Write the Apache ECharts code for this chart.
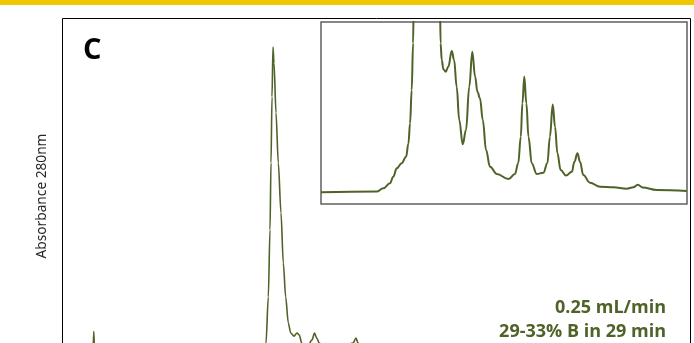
<!DOCTYPE html>
<html><head><meta charset="utf-8">
<script src="https://cdn.jsdelivr.net/npm/echarts@6/dist/echarts.min.js"></script>
<style>html,body{margin:0;padding:0;background:#fff}#c{width:694px;height:343px}</style>
</head><body><div id="c"></div>
<script>
// Main chromatogram (time in min, absorbance arbitrary units)
const mainTime = [0.0, 1.5, 1.55, 1.59, 1.63, 9.9, 10.1, 10.2, 10.315, 10.4, 10.45, 10.5, 10.55, 10.6, 10.7, 10.815, 10.95, 11.065, 11.185, 11.315, 11.435, 11.6, 11.75, 11.865, 11.985, 12.1, 12.3, 12.5, 12.625, 12.735, 12.865, 13.1, 13.9, 14.55, 14.7, 14.8, 15.0, 17.0, 25.0, 31.4];
const mainAbs  = [0.03, 0.03, 0.03, 0.092, 0.03, 0.03, 0.04, 0.058, 0.191, 0.386, 0.580, 0.771, 0.916, 0.870, 0.725, 0.580, 0.435, 0.290, 0.191, 0.116, 0.087, 0.078, 0.087, 0.081, 0.058, 0.046, 0.050, 0.067, 0.087, 0.072, 0.058, 0.045, 0.042, 0.058, 0.072, 0.058, 0.042, 0.045, 0.036, 0.034];

// Inset (zoomed) chromatogram
const insetTime = [6.0, 8.39, 8.67, 8.96, 9.10, 9.25, 9.46, 9.65, 9.75, 9.82, 9.89, 9.95, 9.98, 10.55, 11.1, 11.13, 11.18, 11.25, 11.35, 11.46, 11.61, 11.71, 11.82, 11.93, 12.08, 12.22, 12.36, 12.49, 12.61, 12.71, 12.82, 12.94, 13.08, 13.25, 13.54, 14.04, 14.32, 14.46, 14.57, 14.64, 14.72, 14.81, 14.90, 15.04, 15.25, 15.54, 15.71, 15.82, 15.94, 16.04, 16.14, 16.28, 16.51, 16.76, 16.87, 17.00, 17.11, 17.25, 17.54, 17.97, 18.54, 19.11, 19.40, 19.59, 19.80, 20.40, 21.69];
const insetAbs  = [0.0314, 0.0318, 0.0336, 0.0364, 0.0400, 0.0446, 0.0474, 0.0510, 0.0583, 0.0693, 0.0876, 0.1133, 0.14, 0.916, 0.14, 0.1133, 0.1041, 0.0990, 0.0977, 0.1004, 0.1091, 0.1041, 0.0894, 0.0712, 0.0578, 0.0657, 0.0894, 0.1087, 0.0950, 0.0867, 0.0831, 0.0712, 0.0547, 0.0455, 0.0415, 0.0387, 0.0415, 0.0474, 0.0620, 0.0803, 0.0950, 0.0803, 0.0620, 0.0474, 0.0415, 0.0422, 0.0474, 0.0620, 0.0797, 0.0674, 0.0529, 0.0437, 0.0406, 0.0427, 0.0482, 0.0529, 0.0482, 0.0409, 0.0367, 0.0345, 0.0342, 0.0334, 0.0342, 0.0356, 0.0340, 0.0327, 0.0321];

const panelLabel = 'C';
const yTitle = 'Absorbance 280nm';
const noteLines = ['0.25 mL/min', '29-33% B in 29 min'];

const olive = '#4F6228';
const zip = (a, b) => a.map((v, i) => [v, b[i]]);

const chart = echarts.init(document.getElementById('c'));
chart.setOption({
  animation: false,
  backgroundColor: '#fff',
  grid: [
    {left: 62, right: 4, top: 18, bottom: 0, show: false},
    {left: 321, right: 7, top: 22, bottom: 139, show: true, borderColor: '#606060', borderWidth: 1.5, backgroundColor: '#fff', z: 5}
  ],
  xAxis: [
    {type: 'value', gridIndex: 0, min: 0, max: 31.4, show: false},
    {type: 'value', gridIndex: 1, min: 6.0, max: 21.7, show: false}
  ],
  yAxis: [
    {type: 'value', gridIndex: 0, min: 0.058, max: 1, show: false},
    {type: 'value', gridIndex: 1, min: 0.025, max: 0.125, show: false}
  ],
  series: [
    {type: 'line', xAxisIndex: 0, yAxisIndex: 0, data: zip(mainTime, mainAbs), showSymbol: false, smooth: 0.3, smoothMonotone: 'x', clip: true,
     lineStyle: {color: olive, width: 1.6}, z: 3},
    {type: 'line', xAxisIndex: 1, yAxisIndex: 1, data: zip(insetTime, insetAbs), showSymbol: false, smooth: 0.4, smoothMonotone: 'x', clip: true,
     lineStyle: {color: olive, width: 2}, z: 6}
  ],
  graphic: [
    {type: 'rect', shape: {x: 0, y: 0, width: 694, height: 5}, style: {fill: '#F0C800'}},
    {type: 'polyline', shape: {points: [[62.5, 344], [62.5, 18.5], [690.5, 18.5], [690.5, 344]]}, style: {stroke: '#000', lineWidth: 1, fill: null}, z: 10},
    {type: 'text', x: 83, y: 51, style: {text: panelLabel, font: 'bold 29px "Open Sans", sans-serif', fill: '#000', textVerticalAlign: 'middle'}},
    {type: 'text', x: 42, y: 196, rotation: Math.PI / 2, style: {text: yTitle, font: '13.7px "Noto Sans", sans-serif', fill: '#262626', textAlign: 'center', textVerticalAlign: 'middle'}},
    {type: 'text', x: 666, y: 308, style: {text: noteLines[0], font: 'bold 18px "Open Sans", sans-serif', fill: olive, textAlign: 'right', textVerticalAlign: 'middle'}},
    {type: 'text', x: 666, y: 332, style: {text: noteLines[1], font: 'bold 18px "Open Sans", sans-serif', fill: olive, textAlign: 'right', textVerticalAlign: 'middle'}}
  ]
});
</script></body></html>
